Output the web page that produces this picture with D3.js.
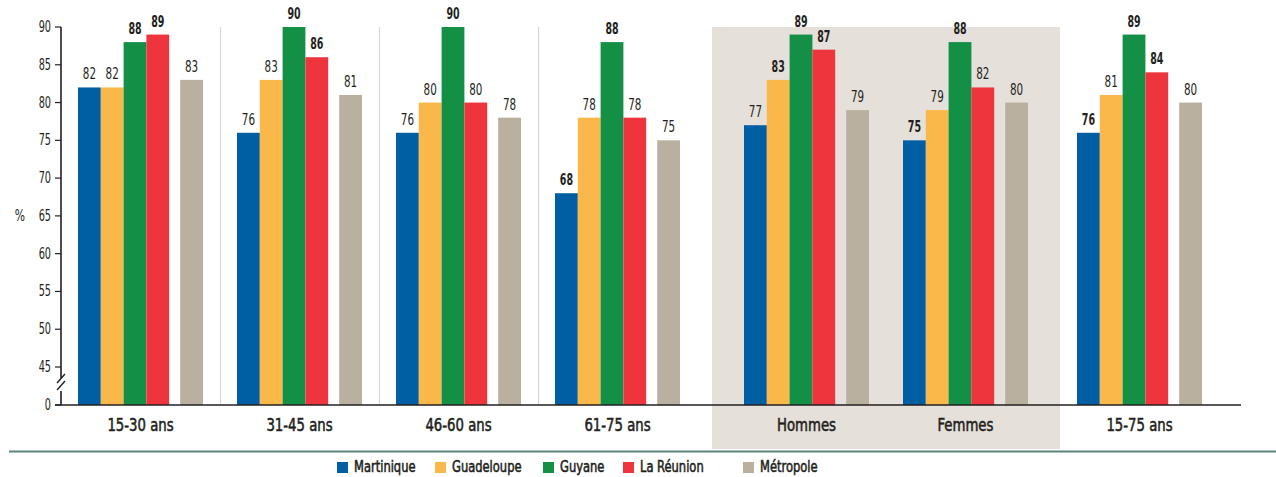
<!DOCTYPE html>
<html><head><meta charset="utf-8">
<script src="https://cdn.jsdelivr.net/npm/d3@7/dist/d3.min.js"></script>
<style>
html,body{margin:0;padding:0;background:#fff;}
svg{display:block;}
text{font-family:"DejaVu Sans Condensed","Liberation Sans Narrow","Roboto",sans-serif;fill:#231f20;}
</style></head>
<body>
<svg id="chart" width="1276" height="477"></svg>
<script>
// ---- data ----
const categories = ["15-30 ans","31-45 ans","46-60 ans","61-75 ans","Hommes","Femmes","15-75 ans"];
const seriesNames = ["Martinique","Guadeloupe","Guyane","La Réunion","Métropole"];
const martinique = [82,76,76,68,77,75,76];
const guadeloupe = [82,83,80,78,83,79,81];
const guyane     = [88,90,90,88,89,88,89];
const reunion    = [89,86,80,78,87,82,84];
const metropole  = [83,81,78,75,79,80,80];
// significant differences (bold labels)
const boldMartinique = [0,0,0,1,0,1,1];
const boldGuadeloupe = [0,0,0,0,1,0,0];
const boldGuyane     = [1,1,1,1,1,1,1];
const boldReunion    = [1,1,0,0,1,0,1];
const boldMetropole  = [0,0,0,0,0,0,0];
const yTicks = [45,50,55,60,65,70,75,80,85,90];
const colors = ["#005ea2","#fbb84a","#138f46","#ee353e","#b9b09f"];

const values = [martinique,guadeloupe,guyane,reunion,metropole];
const bolds = [boldMartinique,boldGuadeloupe,boldGuyane,boldReunion,boldMetropole];

// ---- layout ----
const svg = d3.select("#chart");
const baseY = 405, axisX = 61;
const y = d3.scaleLinear().domain([45,90]).range([367,27]);
const slot = i => i + (i>=4 ? 30/159 : 0) + (i>=6 ? 15/159 : 0);
const gx = d3.scaleLinear().domain([0,1]).range([78,237]);
const inner = d3.scaleBand().domain(seriesNames).range([0,5*22.8]).padding(0);
const innerX = (s) => inner(s) + (s==="Métropole" ? 11 : 0);
const bw = inner.bandwidth();
const groupW = innerX("Métropole") + bw;
const squeeze = (sel, x, k) => sel.attr("transform", `translate(${x},0) scale(${k},1) translate(${-x},0)`);
const medium = sel => sel.attr("stroke", "#231f20").attr("stroke-width", 0.55);

// shaded sex section
svg.append("rect")
  .attr("x", gx(slot(4)) - 32).attr("y", y(90))
  .attr("width", gx(slot(5)) + groupW + 32 - (gx(slot(4)) - 32))
  .attr("height", 449 - y(90))
  .attr("fill", "#e5e0da");

// separators
[1,2,3].forEach(i => {
  const xs = Math.round(gx(slot(i)) - 17) + 0.5;
  svg.append("line").attr("x1", xs).attr("x2", xs).attr("y1", y(90)).attr("y2", baseY)
    .attr("stroke", "#d6d6d6").attr("stroke-width", 1.2);
});

// bars
categories.forEach((c, ci) => {
  const g = svg.append("g").attr("transform", `translate(${gx(slot(ci))},0)`);
  seriesNames.forEach((s, si) => {
    const v = values[si][ci];
    const cx = innerX(s) + bw/2;
    g.append("rect").attr("x", innerX(s)).attr("y", y(v))
      .attr("width", bw).attr("height", baseY - y(v)).attr("fill", colors[si]);
    const t = g.append("text").attr("x", cx).attr("y", y(v) - 8)
      .attr("text-anchor", "middle").attr("font-size", 16)
      .attr("font-weight", bolds[si][ci] ? "bold" : "normal")
      .text(v);
    squeeze(t, cx, bolds[si][ci] ? 0.66 : 0.72);
  });
  const lx = gx(slot(ci)) + groupW/2;
  const cl = svg.append("text").attr("x", lx).attr("y", 431)
    .attr("text-anchor", "middle").attr("font-size", 18)
    .text(c);
  squeeze(cl, lx, 0.82);
  medium(cl);
});

// y axis
const axisG = svg.append("g");
axisG.append("line").attr("x1", axisX).attr("x2", axisX).attr("y1", y(90)).attr("y2", 378)
  .attr("stroke", "#231f20").attr("stroke-width", 1.6);
axisG.append("line").attr("x1", axisX).attr("x2", axisX).attr("y1", 391).attr("y2", baseY)
  .attr("stroke", "#231f20").attr("stroke-width", 1.6);
[0,7].forEach(dy => {
  axisG.append("line").attr("x1", 57).attr("y1", 383+dy).attr("x2", 65).attr("y2", 374+dy)
    .attr("stroke", "#231f20").attr("stroke-width", 1.4);
});
axisG.append("line").attr("x1", axisX - 6).attr("x2", 1241).attr("y1", baseY).attr("y2", baseY)
  .attr("stroke", "#231f20").attr("stroke-width", 1.6);
yTicks.concat([0]).forEach(t => {
  const ty = t === 0 ? baseY : y(t);
  axisG.append("line").attr("x1", axisX - 6).attr("x2", axisX).attr("y1", ty).attr("y2", ty)
    .attr("stroke", "#231f20").attr("stroke-width", 1.2);
  const tl = axisG.append("text").attr("x", 51).attr("y", ty + 5).attr("text-anchor", "end")
    .attr("font-size", 15).text(t);
  squeeze(tl, 51, 0.72);
});
const pct = svg.append("text").attr("x", 20).attr("y", y(65) + 5).attr("text-anchor", "middle")
  .attr("font-size", 15).text("%");
squeeze(pct, 20, 0.8);

// bottom rule
svg.append("line").attr("x1", 9).attr("x2", 1276).attr("y1", 451.5).attr("y2", 451.5)
  .attr("stroke", "#5b8577").attr("stroke-width", 2);

// legend
const legendStarts = [337, 435, 543, 623, 743];
seriesNames.forEach((s, i) => {
  const lx = legendStarts[i];
  svg.append("rect").attr("x", lx).attr("y", 462).attr("width", 11).attr("height", 11).attr("fill", colors[i]);
  const lt = svg.append("text").attr("x", lx + 17).attr("y", 472.5).attr("font-size", 16)
    .text(s);
  squeeze(lt, lx + 17, 0.8);
  medium(lt);
});
</script>
</body></html>
